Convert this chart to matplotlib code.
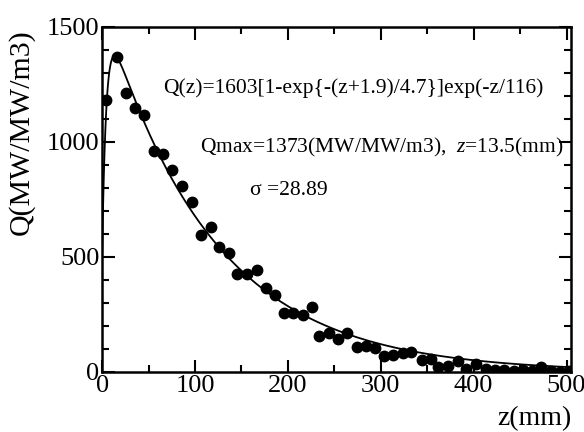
import numpy as np
import matplotlib.pyplot as plt
from matplotlib.ticker import MultipleLocator

plt.rcParams['font.family'] = ['Liberation Serif', 'DejaVu Serif']
plt.rcParams['mathtext.fontset'] = 'custom'
plt.rcParams['mathtext.rm'] = 'Liberation Serif'
plt.rcParams['mathtext.it'] = 'Liberation Serif:italic'

z_data = [4, 16, 26, 35, 45, 56, 66, 75, 86, 97, 106, 117, 126, 137, 145, 156,
          167, 176, 186, 196, 206, 216, 226, 234, 244, 254, 264, 274, 284, 294,
          304, 313, 324, 333, 344, 354, 362, 372, 383, 392, 403, 413, 423, 433,
          443, 453, 463, 473, 483, 493, 503]
q_data = [1183, 1370, 1213, 1148, 1117, 961, 948, 878, 810, 739, 596, 630, 543,
          517, 426, 426, 443, 365, 335, 256, 256, 248, 283, 157, 170, 143, 170,
          109, 113, 104, 70, 74, 83, 87, 52, 57, 22, 26, 48, 13, 35, 12, 8, 10,
          5, 8, 3, 20, 2, 0, 5]

# fit parameters as printed on the chart
q0, z_off, z_rise, z_decay = 1603, 1.9, 4.7, 116
z_fit = np.linspace(0, 505, 600)
q_fit = q0 * (1 - np.exp(-(z_fit + z_off) / z_rise)) * np.exp(-z_fit / z_decay)

fig = plt.figure(figsize=(5.84, 4.32), dpi=100)
ax = fig.add_axes([0.175, 0.139, 0.803, 0.799])

ax.plot(z_fit, q_fit, color='black', lw=1.3)
ax.plot(z_data, q_data, 'o', color='black', ms=7.5)

ax.set_xlim(0, 505)
ax.set_ylim(0, 1500)
ax.xaxis.set_major_locator(MultipleLocator(100))
ax.xaxis.set_minor_locator(MultipleLocator(50))
ax.yaxis.set_major_locator(MultipleLocator(500))
ax.yaxis.set_minor_locator(MultipleLocator(100))
ax.tick_params(which='both', direction='in', top=True, right=True, width=1.5)
ax.tick_params(which='major', length=9, labelsize=19, pad=2)
ax.tick_params(which='minor', length=5)
for s in ax.spines.values():
    s.set_linewidth(1.8)

ax.set_xlabel('z(mm)', fontsize=20)
ax.xaxis.set_label_coords(0.921, -0.098)
ax.set_ylabel('Q(MW/MW/m3)', fontsize=21.5)
ax.yaxis.set_label_coords(-0.143, 0.696)

ax.text(66, 1235, 'Q(z)=1603[1-exp{-(z+1.9)/4.7}]exp(-z/116)', fontsize=15.5, va='center')
ax.text(105, 974, 'Qmax=1373(MW/MW/m3),  $z$=13.5(mm)', fontsize=15.5, va='center')
ax.text(159, 787, '\u03c3 =28.89', fontsize=15.5, va='center')

fig.savefig('out.png', dpi=100)
